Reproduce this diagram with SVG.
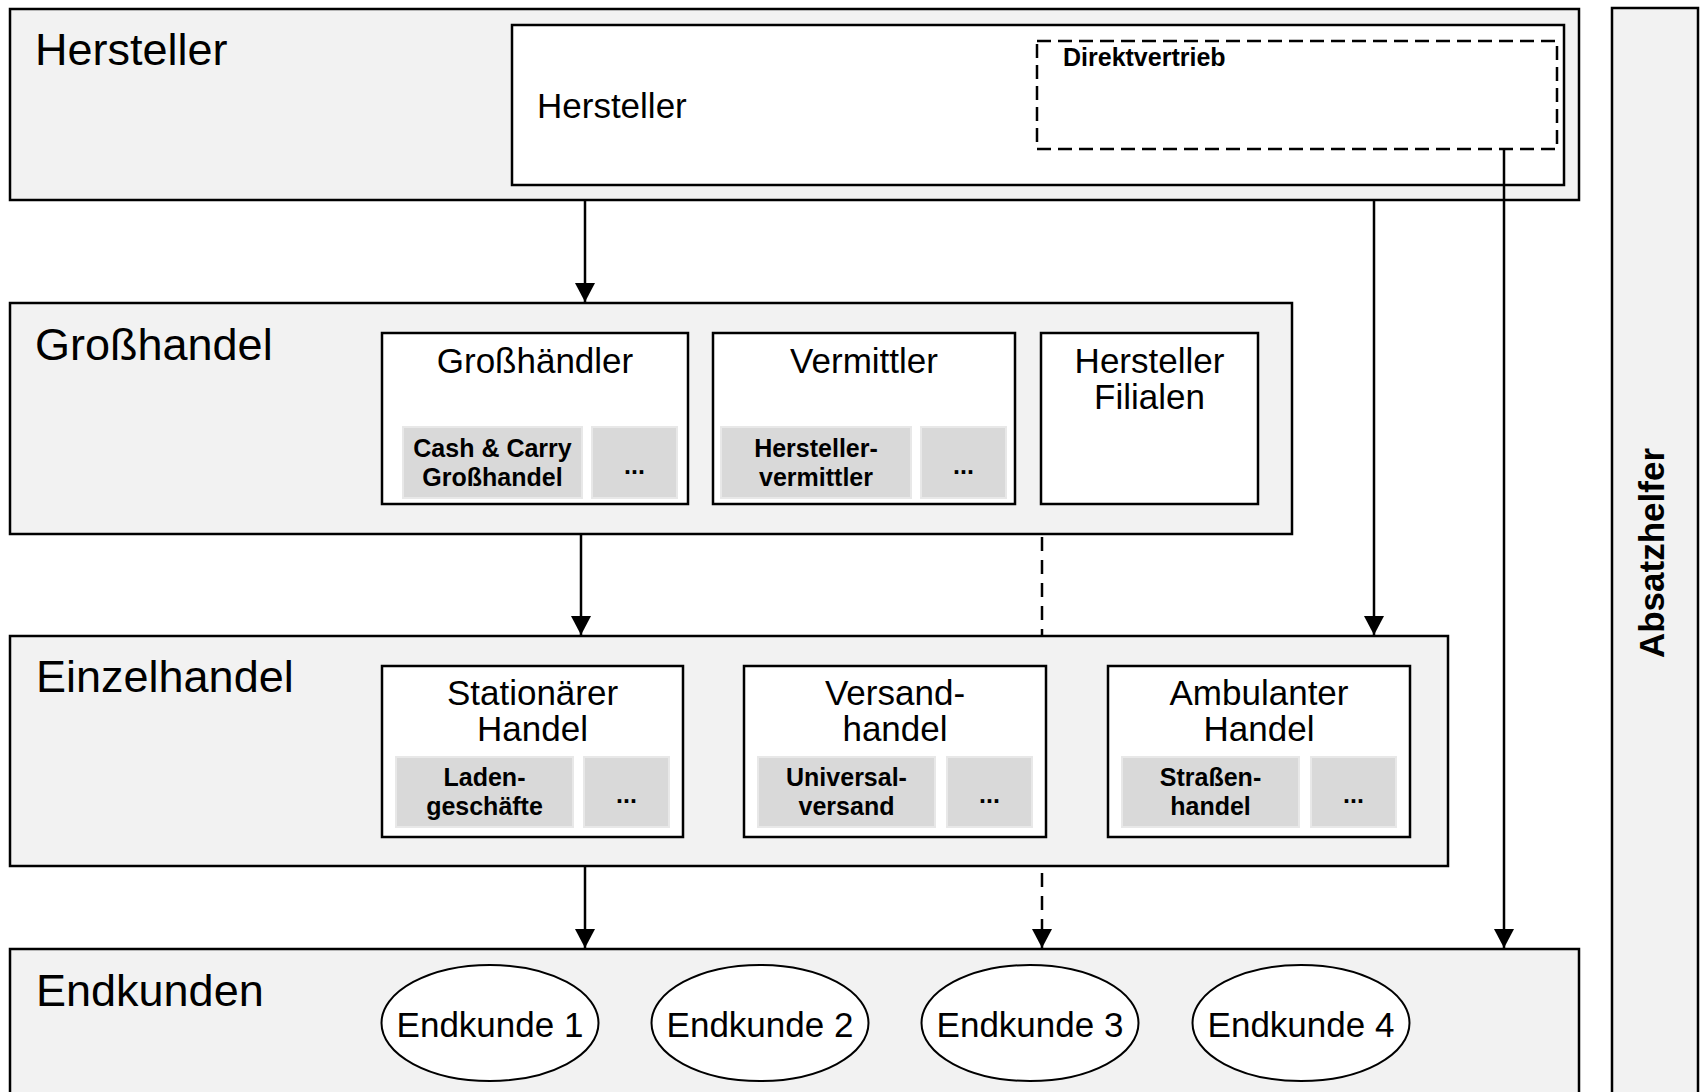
<svg xmlns="http://www.w3.org/2000/svg" width="1700" height="1092" viewBox="0 0 1700 1092">
  <style>
    .layer { fill: #f2f2f2; stroke: #000; stroke-width: 2.5; }
    .node { fill: #fff; stroke: #000; stroke-width: 2.5; }
    .sub { fill: #d9d9d9; stroke: #e8e8e8; stroke-width: 2; }
    .ell { fill: #fff; stroke: #000; stroke-width: 2; }
    .title { font-family: "Liberation Sans", Arial, sans-serif; font-size: 45px; fill: #000; }
    .lbl { font-family: "Liberation Sans", Arial, sans-serif; font-size: 35px; fill: #000; text-anchor: middle; }
    .sublbl { font-family: "Liberation Sans", Arial, sans-serif; font-size: 25px; font-weight: bold; fill: #000; text-anchor: middle; }
    .conn { stroke: #000; stroke-width: 2.5; fill: none; }
    .dash { stroke-dasharray: 14 9; }
  </style>
  <defs>
    <marker id="arrow" markerWidth="19" markerHeight="20" refX="19" refY="10" orient="auto" markerUnits="userSpaceOnUse">
      <path d="M0,0 L19,10 L0,20 Z" fill="#000"/>
    </marker>
  </defs>

  <rect width="1700" height="1092" fill="#fff"/>

  <!-- Absatzhelfer side column -->
  <g id="absatzhelfer">
    <rect x="1612" y="8" width="86" height="1100" class="layer"/>
    <text x="1664" y="553" transform="rotate(-90 1664 553)" text-anchor="middle" font-family="'Liberation Sans', Arial, sans-serif" font-size="35" font-weight="bold">Absatzhelfer</text>
  </g>

  <!-- Hersteller layer -->
  <g id="layer-hersteller">
    <rect x="10" y="9" width="1569" height="191" class="layer"/>
    <text x="35" y="65" class="title">Hersteller</text>
  </g>
  <g id="node-hersteller">
    <rect x="512" y="25" width="1052" height="160" class="node"/>
    <text x="537" y="118" font-family="'Liberation Sans', Arial, sans-serif" font-size="35">Hersteller</text>
  </g>
  <g id="node-direktvertrieb">
    <rect x="1037" y="41" width="520" height="108" fill="none" stroke="#000" stroke-width="2.5" stroke-dasharray="14 7"/>
    <text x="1063" y="66" font-family="'Liberation Sans', Arial, sans-serif" font-size="25" font-weight="bold">Direktvertrieb</text>
  </g>

  <!-- Großhandel layer -->
  <g id="layer-grosshandel">
    <rect x="10" y="303" width="1282" height="231" class="layer"/>
    <text x="35" y="360" class="title">Großhandel</text>
  </g>
  <g id="node-grosshaendler">
    <rect x="382" y="333" width="306" height="171" class="node"/>
    <text x="535" y="373" class="lbl">Großhändler</text>
    <rect x="403" y="427" width="179" height="71" class="sub"/>
    <text x="492.5" y="457" class="sublbl">Cash &amp; Carry</text>
    <text x="492.5" y="486" class="sublbl">Großhandel</text>
    <rect x="592" y="427" width="85" height="71" class="sub"/>
    <text x="634.5" y="474" class="sublbl">...</text>
  </g>
  <g id="node-vermittler">
    <rect x="713" y="333" width="302" height="171" class="node"/>
    <text x="864" y="373" class="lbl">Vermittler</text>
    <rect x="721" y="427" width="190" height="71" class="sub"/>
    <text x="816" y="457" class="sublbl">Hersteller-</text>
    <text x="816" y="486" class="sublbl">vermittler</text>
    <rect x="921" y="427" width="85" height="71" class="sub"/>
    <text x="963.5" y="474" class="sublbl">...</text>
  </g>
  <g id="node-filialen">
    <rect x="1041" y="333" width="217" height="171" class="node"/>
    <text x="1149.5" y="373" class="lbl">Hersteller</text>
    <text x="1149.5" y="409" class="lbl">Filialen</text>
  </g>

  <!-- Einzelhandel layer -->
  <g id="layer-einzelhandel">
    <rect x="10" y="636" width="1438" height="230" class="layer"/>
    <text x="36" y="692" class="title">Einzelhandel</text>
  </g>
  <g id="node-stationaer">
    <rect x="382" y="666" width="301" height="171" class="node"/>
    <text x="532.5" y="705" class="lbl">Stationärer</text>
    <text x="532.5" y="741" class="lbl">Handel</text>
    <rect x="396" y="757" width="177" height="70" class="sub"/>
    <text x="484.5" y="786" class="sublbl">Laden-</text>
    <text x="484.5" y="815" class="sublbl">geschäfte</text>
    <rect x="584" y="757" width="85" height="70" class="sub"/>
    <text x="626.5" y="803" class="sublbl">...</text>
  </g>
  <g id="node-versand">
    <rect x="744" y="666" width="302" height="171" class="node"/>
    <text x="895" y="705" class="lbl">Versand-</text>
    <text x="895" y="741" class="lbl">handel</text>
    <rect x="758" y="757" width="177" height="70" class="sub"/>
    <text x="846.5" y="786" class="sublbl">Universal-</text>
    <text x="846.5" y="815" class="sublbl">versand</text>
    <rect x="947" y="757" width="85" height="70" class="sub"/>
    <text x="989.5" y="803" class="sublbl">...</text>
  </g>
  <g id="node-ambulant">
    <rect x="1108" y="666" width="302" height="171" class="node"/>
    <text x="1259" y="705" class="lbl">Ambulanter</text>
    <text x="1259" y="741" class="lbl">Handel</text>
    <rect x="1122" y="757" width="177" height="70" class="sub"/>
    <text x="1210.5" y="786" class="sublbl">Straßen-</text>
    <text x="1210.5" y="815" class="sublbl">handel</text>
    <rect x="1311" y="757" width="85" height="70" class="sub"/>
    <text x="1353.5" y="803" class="sublbl">...</text>
  </g>

  <!-- Endkunden layer -->
  <g id="layer-endkunden">
    <rect x="10" y="949" width="1569" height="160" class="layer"/>
    <text x="36" y="1006" class="title">Endkunden</text>
  </g>
  <g id="node-endkunde1">
    <ellipse cx="490" cy="1023" rx="108.5" ry="58" class="ell"/>
    <text x="490" y="1037" class="lbl">Endkunde 1</text>
  </g>
  <g id="node-endkunde2">
    <ellipse cx="760" cy="1023" rx="108.5" ry="58" class="ell"/>
    <text x="760" y="1037" class="lbl">Endkunde 2</text>
  </g>
  <g id="node-endkunde3">
    <ellipse cx="1030" cy="1023" rx="108.5" ry="58" class="ell"/>
    <text x="1030" y="1037" class="lbl">Endkunde 3</text>
  </g>
  <g id="node-endkunde4">
    <ellipse cx="1301" cy="1023" rx="108.5" ry="58" class="ell"/>
    <text x="1301" y="1037" class="lbl">Endkunde 4</text>
  </g>

  <!-- Connectors -->
  <g id="connectors">
    <line x1="585" y1="201" x2="585" y2="302" class="conn" marker-end="url(#arrow)"/>
    <line x1="1374" y1="201" x2="1374" y2="635" class="conn" marker-end="url(#arrow)"/>
    <line x1="1504" y1="150" x2="1504" y2="948" class="conn" marker-end="url(#arrow)"/>
    <line x1="581" y1="535" x2="581" y2="635" class="conn" marker-end="url(#arrow)"/>
    <line x1="1042" y1="537" x2="1042" y2="635" class="conn dash"/>
    <line x1="585" y1="867" x2="585" y2="948" class="conn" marker-end="url(#arrow)"/>
    <line x1="1042" y1="873" x2="1042" y2="948" class="conn dash" marker-end="url(#arrow)"/>
  </g>
</svg>
